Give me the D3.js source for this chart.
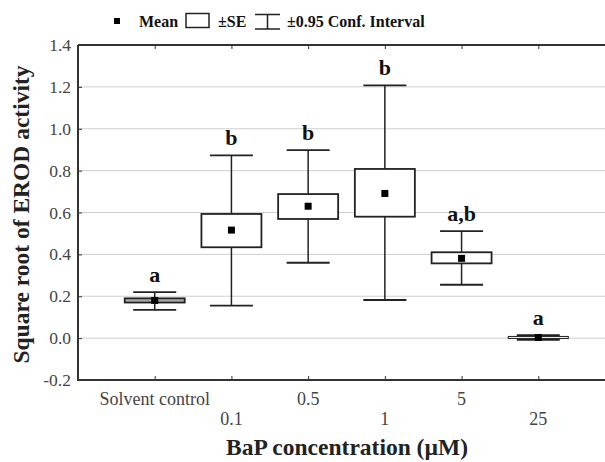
<!DOCTYPE html>
<meta charset="utf-8">
<style>
  body { margin: 0; background: #fff; }
  text { font-family: 'Liberation Serif', 'Times New Roman', serif; }
</style>
<div id="chart"></div>
<script src="https://cdn.jsdelivr.net/npm/d3@7"></script>
<script>
    // data
    const categories = ["Solvent control", "0.1", "0.5", "1", "5", "25"];
    const means   = [0.180, 0.516, 0.630, 0.691, 0.381, 0.003];
    const seLow   = [0.170, 0.434, 0.569, 0.580, 0.357, -0.002];
    const seHigh  = [0.190, 0.593, 0.688, 0.808, 0.410, 0.008];
    const ciLow   = [0.135, 0.155, 0.360, 0.182, 0.255, -0.008];
    const ciHigh  = [0.220, 0.873, 0.898, 1.207, 0.511, 0.014];
    const letters = ["a", "b", "b", "b", "a,b", "a"];
    const yTicks  = [-0.2, 0.0, 0.2, 0.4, 0.6, 0.8, 1.0, 1.2, 1.4];

    const width = 605, height = 462;
    const plot = {left: 78, right: 615, top: 45, bottom: 380};

    const svg = d3.select("#chart").append("svg")
                  .attr("width", width)
                  .attr("height", height);

    const x = d3.scalePoint()
                .domain(categories)
                .range([plot.left, plot.right])
                .padding(1);

    const y = d3.scaleLinear()
                .domain([-0.2, 1.4])
                .range([plot.bottom, plot.top]);

    // grid
    svg.append("g")
       .selectAll("line")
       .data(yTicks.filter(t => t > -0.2 && t < 1.4))
       .join("line")
       .attr("x1", plot.left).attr("x2", plot.right)
       .attr("y1", d => y(d)).attr("y2", d => y(d))
       .attr("stroke", "#cfcfcf")
       .attr("stroke-width", 1);

    // axes (ticks inward)
    const yAxis = d3.axisLeft(y).tickValues(yTicks).tickSize(-4).tickPadding(7);
    const gy = svg.append("g").attr("transform", `translate(${plot.left},0)`).call(yAxis);
    gy.select(".domain").remove();
    gy.selectAll("line").attr("stroke", "#333");
    gy.selectAll("text").attr("font-size", 17.5).attr("fill", "#444")
      .style("font-family", "'Liberation Serif', serif").text(d => d3.format(".1f")(d).replace("−", "-"));

    const gx = svg.append("g").attr("transform", `translate(0,${plot.bottom})`)
                  .call(d3.axisBottom(x).tickSize(-4).tickFormat(""));
    gx.select(".domain").remove();
    gx.selectAll("line").attr("stroke", "#333");

    const gt = svg.append("g").attr("transform", `translate(0,${plot.top})`)
                  .call(d3.axisTop(x).tickSize(-4).tickFormat(""));
    gt.select(".domain").remove();
    gt.selectAll("line").attr("stroke", "#333");

    // staggered x labels
    svg.append("g")
       .selectAll("text")
       .data(categories)
       .join("text")
       .attr("x", d => x(d))
       .attr("y", (d, i) => i % 2 === 0 ? 405 : 425)
       .attr("text-anchor", "middle")
       .attr("font-size", 18)
       .attr("fill", "#444")
       .text(d => d);

    // frame
    svg.append("path")
       .attr("d", `M${plot.left},${plot.top}H${plot.right}M${plot.left},${plot.top}V${plot.bottom}H${plot.right}`)
       .attr("fill", "none")
       .attr("stroke", "#333")
       .attr("stroke-width", 2);

    const capW = 43, boxW = 60;
    const g = svg.append("g").attr("stroke", "#222");

    categories.forEach((c, i) => {
        const cx = x(c);
        // whisker
        g.append("line")
         .attr("x1", cx).attr("x2", cx)
         .attr("y1", y(ciLow[i])).attr("y2", y(ciHigh[i]))
         .attr("stroke-width", 1.5);
        [ciLow[i], ciHigh[i]].forEach(v => {
            g.append("line")
             .attr("x1", cx - capW / 2).attr("x2", cx + capW / 2)
             .attr("y1", y(v)).attr("y2", y(v))
             .attr("stroke-width", 1.8);
        });
        // SE box
        g.append("rect")
         .attr("x", cx - boxW / 2)
         .attr("width", boxW)
         .attr("y", y(seHigh[i]))
         .attr("height", Math.max(1, y(seLow[i]) - y(seHigh[i])))
         .attr("fill", i === 0 ? "#aaa" : "#fff")
         .attr("fill-opacity", i === 5 ? 0 : 1)
         .attr("stroke-width", i === 5 ? 1 : 1.8);
        // mean
        g.append("rect")
         .attr("x", cx - 3.5).attr("y", y(means[i]) - 3.5)
         .attr("width", 7).attr("height", 7)
         .attr("fill", "#000").attr("stroke", "none");
        // letters
        svg.append("text")
           .attr("x", cx)
           .attr("y", y(ciHigh[i]) - 10)
           .attr("text-anchor", "middle")
           .attr("font-size", 22)
           .attr("font-weight", "bold")
           .attr("fill", "#111")
           .text(letters[i]);
    });

    // axis titles
    svg.append("text")
       .attr("transform", `translate(29,${(plot.top + plot.bottom) / 2 + 2}) rotate(-90)`)
       .attr("text-anchor", "middle")
       .attr("font-size", 23.5)
       .attr("font-weight", "bold")
       .attr("fill", "#222")
       .text("Square root of EROD activity");

    svg.append("text")
       .attr("x", 347)
       .attr("y", 455)
       .attr("text-anchor", "middle")
       .attr("font-size", 23.5)
       .attr("font-weight", "bold")
       .attr("fill", "#222")
       .text("BaP concentration (µM)");

    // legend
    const lg = svg.append("g").attr("font-size", 16).attr("font-weight", "bold").attr("fill", "#111");
    lg.append("rect").attr("x", 114).attr("y", 18).attr("width", 6).attr("height", 6).attr("fill", "#000");
    lg.append("text").attr("x", 139).attr("y", 27).text("Mean");
    lg.append("rect").attr("x", 186).attr("y", 13.5).attr("width", 23).attr("height", 14)
      .attr("fill", "#fff").attr("stroke", "#222").attr("stroke-width", 1.5);
    lg.append("text").attr("x", 218).attr("y", 27).text("±SE");
    lg.append("path").attr("d", "M255,14.5H280M267.5,14.5V29M255,29H280")
      .attr("fill", "none").attr("stroke", "#222").attr("stroke-width", 1.5);
    lg.append("text").attr("x", 287).attr("y", 27).text("±0.95 Conf. Interval");
</script>
